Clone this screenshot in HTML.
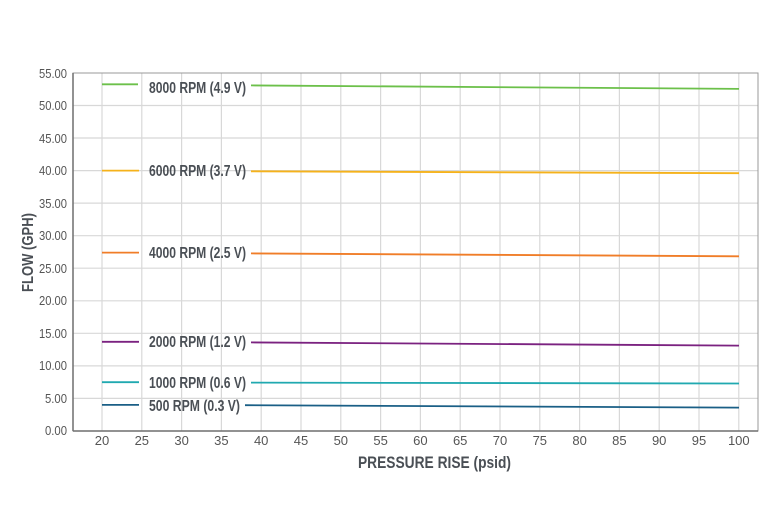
<!DOCTYPE html>
<html><head><style>body{margin:0;background:#fff}svg{display:block}</style></head><body>
<svg width="780" height="520" xmlns="http://www.w3.org/2000/svg" font-family="'Liberation Sans',sans-serif">
<g stroke="#d8d8d8" stroke-width="1.2">
<line x1="102" y1="73" x2="102" y2="431"/><line x1="141.8" y1="73" x2="141.8" y2="431"/><line x1="181.6" y1="73" x2="181.6" y2="431"/><line x1="221.4" y1="73" x2="221.4" y2="431"/><line x1="261.2" y1="73" x2="261.2" y2="431"/><line x1="301" y1="73" x2="301" y2="431"/><line x1="340.8" y1="73" x2="340.8" y2="431"/><line x1="380.6" y1="73" x2="380.6" y2="431"/><line x1="420.4" y1="73" x2="420.4" y2="431"/><line x1="460.2" y1="73" x2="460.2" y2="431"/><line x1="500" y1="73" x2="500" y2="431"/><line x1="539.8" y1="73" x2="539.8" y2="431"/><line x1="579.6" y1="73" x2="579.6" y2="431"/><line x1="619.4" y1="73" x2="619.4" y2="431"/><line x1="659.2" y1="73" x2="659.2" y2="431"/><line x1="699" y1="73" x2="699" y2="431"/><line x1="738.8" y1="73" x2="738.8" y2="431"/>
<line x1="73" y1="105.5" x2="758" y2="105.5"/><line x1="73" y1="138" x2="758" y2="138"/><line x1="73" y1="170.6" x2="758" y2="170.6"/><line x1="73" y1="203.1" x2="758" y2="203.1"/><line x1="73" y1="235.7" x2="758" y2="235.7"/><line x1="73" y1="268.2" x2="758" y2="268.2"/><line x1="73" y1="300.8" x2="758" y2="300.8"/><line x1="73" y1="333.3" x2="758" y2="333.3"/><line x1="73" y1="365.9" x2="758" y2="365.9"/><line x1="73" y1="398.4" x2="758" y2="398.4"/>
</g>
<rect x="73" y="73" width="685" height="358" fill="none" stroke="#999" stroke-width="1"/>
<line x1="73" y1="73" x2="73" y2="431" stroke="#6f6f6f" stroke-width="1.5"/>
<line x1="73" y1="431" x2="758" y2="431" stroke="#6f6f6f" stroke-width="1.5"/>
<g fill="#555" font-size="13" text-anchor="end">
<text x="67" y="78" textLength="28" lengthAdjust="spacingAndGlyphs">55.00</text><text x="67" y="110" textLength="28" lengthAdjust="spacingAndGlyphs">50.00</text><text x="67" y="143" textLength="28" lengthAdjust="spacingAndGlyphs">45.00</text><text x="67" y="175" textLength="28" lengthAdjust="spacingAndGlyphs">40.00</text><text x="67" y="208" textLength="28" lengthAdjust="spacingAndGlyphs">35.00</text><text x="67" y="240" textLength="28" lengthAdjust="spacingAndGlyphs">30.00</text><text x="67" y="273" textLength="28" lengthAdjust="spacingAndGlyphs">25.00</text><text x="67" y="305" textLength="28" lengthAdjust="spacingAndGlyphs">20.00</text><text x="67" y="338" textLength="28" lengthAdjust="spacingAndGlyphs">15.00</text><text x="67" y="370" textLength="28" lengthAdjust="spacingAndGlyphs">10.00</text><text x="67" y="403" textLength="22" lengthAdjust="spacingAndGlyphs">5.00</text><text x="67" y="435" textLength="22" lengthAdjust="spacingAndGlyphs">0.00</text>
</g>
<g fill="#555" font-size="13" text-anchor="middle">
<text x="102" y="445">20</text><text x="141.8" y="445">25</text><text x="181.6" y="445">30</text><text x="221.4" y="445">35</text><text x="261.2" y="445">40</text><text x="301" y="445">45</text><text x="340.8" y="445">50</text><text x="380.6" y="445">55</text><text x="420.4" y="445">60</text><text x="460.2" y="445">65</text><text x="500" y="445">70</text><text x="539.8" y="445">75</text><text x="579.6" y="445">80</text><text x="619.4" y="445">85</text><text x="659.2" y="445">90</text><text x="699" y="445">95</text><text x="738.8" y="445">100</text>
</g>
<text x="358" y="468" font-size="17" font-weight="bold" fill="#4a4f55" textLength="153" lengthAdjust="spacingAndGlyphs">PRESSURE RISE (psid)</text>
<text transform="translate(33,292) rotate(-90)" font-size="16" font-weight="bold" fill="#4a4f55" textLength="79" lengthAdjust="spacingAndGlyphs">FLOW (GPH)</text>
<g stroke-width="1.8" fill="none">
<path d="M102 84.3H138M251 85.4L739 88.9" stroke="#6cc04a"/>
<path d="M102 170.6H139M251 171.3L739 173.2" stroke="#f5b21b"/>
<path d="M102 252.6H139M251 253.4L739 256.3" stroke="#f07d28"/>
<path d="M102 341.8H139M251 342.4L739 345.6" stroke="#7b2280"/>
<path d="M102 382.2H139M251 382.6L739 383.5" stroke="#20a9b0"/>
<path d="M102 404.9H139M245 405.2L739 407.6" stroke="#1a5f86"/>
</g>
<g fill="#4a4f55" font-size="15.5" font-weight="bold">
<text x="149" y="93" textLength="97" lengthAdjust="spacingAndGlyphs">8000 RPM (4.9 V)</text>
<text x="149" y="176" textLength="97" lengthAdjust="spacingAndGlyphs">6000 RPM (3.7 V)</text>
<text x="149" y="258" textLength="97" lengthAdjust="spacingAndGlyphs">4000 RPM (2.5 V)</text>
<text x="149" y="347" textLength="97" lengthAdjust="spacingAndGlyphs">2000 RPM (1.2 V)</text>
<text x="149" y="388" textLength="97" lengthAdjust="spacingAndGlyphs">1000 RPM (0.6 V)</text>
<text x="149" y="411" textLength="91" lengthAdjust="spacingAndGlyphs">500 RPM (0.3 V)</text>
</g>
</svg>
</body></html>
